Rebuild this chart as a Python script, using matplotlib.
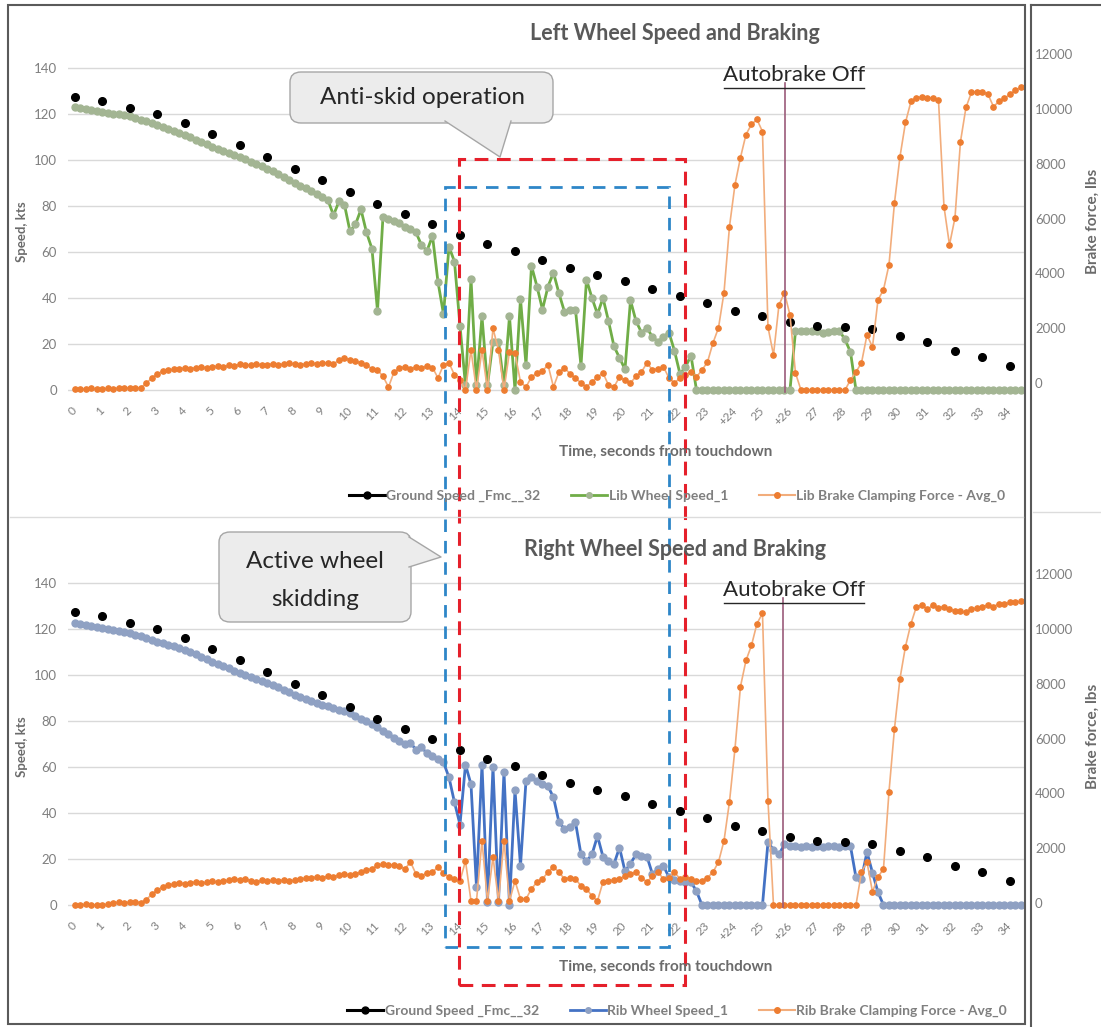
import numpy as np
import matplotlib.pyplot as plt
from matplotlib.lines import Line2D
from matplotlib.patches import Rectangle, FancyBboxPatch, Polygon
from matplotlib.transforms import ScaledTranslation

plt.rcParams['font.family'] = ['Lato', 'DejaVu Sans']

W, H = 1101, 1027


def fx(x):
    return x / W


def fy(y):
    return 1 - y / H


SAMPLE_DT = 0.2  # wheel speed / brake force sample period, s

tick_labels = ['0', '1', '2', '3', '4', '5', '6', '7', '8', '9', '10', '11',
               '12', '13', '14', '15', '16', '17', '18', '19', '20', '21',
               '22', '23', '+24', '25', '+26', '27', '28', '29', '30', '31',
               '32', '33', '34']

# ground speed, one point per second (kts)
ground_speed = [127.5, 125.5, 122.5, 120.0, 116.0, 111.5, 106.5, 101.5, 96.0,
                91.5, 86.0, 81.0, 76.5, 72.0, 67.5, 63.5, 60.5, 56.5, 53.0,
                50.0, 47.5, 44.0, 41.0, 38.0, 34.5, 32.0, 29.5, 28.0, 27.5,
                26.5, 23.5, 21.0, 17.0, 14.5, 10.5]

# left (Lib) wheel speed, kts, every 0.2 s
lib_wheel = [
    123.0, 122.6, 122.2, 121.8, 121.4,
    121.0, 120.6, 120.2, 119.8, 119.4,
    119.0, 118.4, 117.6, 116.8, 116.0,
    115.3, 114.5, 113.6, 112.7, 111.8,
    110.8, 109.8, 108.8, 107.8, 106.8,
    105.8, 104.9, 104.0, 103.0, 102.2,
    101.4, 100.4, 99.3, 98.3, 97.3,
    96.3, 95.0, 93.7, 92.4, 91.1,
    89.8, 88.8, 87.7, 86.6, 85.3,
    84.0, 82.5, 76.0, 82.0, 80.5,
    69.0, 72.0, 78.5, 68.5, 61.4,
    34.4, 75.4, 74.5, 73.5, 72.5,
    71.0, 70.0, 68.5, 63.0, 60.5,
    67.0, 47.0, 33.0, 62.3, 55.8,
    28.0, 2.0, 48.4, 2.0, 32.0,
    2.0, 21.0, 21.0, 2.0, 32.0,
    0.0, 39.6, 11.0, 54.0, 45.0,
    35.0, 45.0, 51.0, 42.0, 34.0,
    35.0, 35.0, 10.5, 48.0, 40.0,
    33.0, 40.0, 30.0, 19.0, 14.0,
    9.0, 39.0, 30.0, 25.0, 27.0,
    23.0, 21.0, 23.0, 25.0, 17.0,
    7.0, 10.0, 15.0, 0.0, 0.0,
    0.0, 0.0, 0.0, 0.0, 0.0,
    0.0, 0.0, 0.0, 0.0, 0.0,
    0.0, 0.0, 0.0, 0.0, 0.0,
    0.0, 25.5, 25.7, 25.7, 25.7,
    25.5, 25.0, 25.4, 25.7, 25.7,
    22.0, 16.5, 0.0, 0.0, 0.0,
    0.0, 0.0, 0.0, 0.0, 0.0,
    0.0, 0.0, 0.0, 0.0, 0.0,
    0.0, 0.0, 0.0, 0.0, 0.0,
    0.0, 0.0, 0.0, 0.0, 0.0,
    0.0, 0.0, 0.0, 0.0, 0.0,
    0.0, 0.0, 0.0,
]

# left (Lib) brake clamping force, lbs, every 0.2 s
lib_brake = [
    50, 30, 40, 60, 30,
    40, 60, 50, 70, 60,
    80, 60, 90, 250, 450,
    600, 680, 720, 760, 780,
    800, 780, 820, 840, 810,
    850, 870, 840, 900, 880,
    940, 900, 920, 960, 900,
    930, 960, 920, 950, 980,
    940, 920, 960, 990, 950,
    980, 1000, 960, 1080, 1170,
    1100, 1050, 980, 900, 780,
    730, 500, 110, 650, 800,
    850, 780, 840, 800, 880,
    820, 440, 915, 990, 550,
    365, 0, 1460, 0, 1460,
    0, 2250, 1460, 0, 1400,
    1350, 290, 110, 475, 620,
    700, 915, 110, 660, 800,
    600, 440, 255, 110, 300,
    475, 620, 180, 110, 475,
    350, 255, 500, 660, 990,
    730, 780, 840, 440, 255,
    440, 550, 660, 475, 730,
    1020, 1720, 2270, 3550, 5970,
    7500, 8490, 9330, 9700, 9880,
    9440, 2300, 1280, 3110, 3550,
    2740, 620, 0, 0, 0,
    0, 0, 0, 0, 0,
    0, 365, 660, 990, 2010,
    1570, 3290, 3660, 4570, 6840,
    8520, 9770, 10540, 10680, 10700,
    10680, 10650, 10600, 6700, 5300,
    6290, 9070, 10320, 10870, 10900,
    10900, 10800, 10350, 10540, 10650,
    10800, 10950, 11050,
]

# right (Rib) wheel speed, kts, every 0.2 s
rib_wheel = [
    122.7, 122.3, 121.9, 121.5, 121.0,
    120.5, 120.1, 119.7, 119.2, 118.8,
    118.3, 117.6, 116.8, 116.0, 115.2,
    114.4, 113.8, 113.1, 112.4, 111.7,
    111.0, 110.0, 109.0, 107.9, 106.8,
    105.8, 104.8, 103.8, 102.9, 101.9,
    101.0, 100.1, 99.3, 98.4, 97.6,
    96.7, 95.7, 94.6, 93.6, 92.5,
    91.5, 90.6, 89.7, 88.9, 88.0,
    87.1, 86.4, 85.7, 85.0, 84.3,
    83.6, 82.3, 81.0, 79.8, 78.5,
    77.2, 75.7, 74.3, 72.8, 71.3,
    69.8, 70.5, 67.5, 68.5, 66.0,
    64.6, 63.5, 62.0, 55.5, 44.6,
    35.0, 61.0, 52.5, 7.8, 61.0,
    1.3, 60.0, 1.3, 58.0, 0.0,
    50.0, 17.0, 54.0, 55.5, 54.0,
    52.5, 51.6, 46.8, 36.0, 33.0,
    34.0, 36.0, 22.0, 19.0, 22.0,
    30.0, 21.0, 19.0, 17.8, 25.0,
    14.7, 18.0, 22.0, 21.5, 21.0,
    13.4, 15.6, 17.0, 12.0, 11.0,
    10.4, 10.2, 10.0, 6.0, 0.0,
    0.0, 0.0, 0.0, 0.0, 0.0,
    0.0, 0.0, 0.0, 0.0, 0.0,
    0.0, 27.3, 24.0, 22.0, 26.4,
    25.6, 25.6, 25.4, 25.6, 25.4,
    25.6, 25.4, 25.6, 25.6, 25.4,
    25.6, 25.6, 12.0, 11.5, 23.0,
    14.0, 5.6, 0.0, 0.0, 0.0,
    0.0, 0.0, 0.0, 0.0, 0.0,
    0.0, 0.0, 0.0, 0.0, 0.0,
    0.0, 0.0, 0.0, 0.0, 0.0,
    0.0, 0.0, 0.0, 0.0, 0.0,
    0.0, 0.0, 0.0,
]

# right (Rib) brake clamping force, lbs, every 0.2 s
rib_brake = [
    0, 0, 20, 0, 10,
    0, 30, 80, 100, 90,
    100, 110, 90, 200, 400,
    550, 660, 730, 770, 800,
    780, 820, 840, 800, 830,
    860, 840, 880, 900, 950,
    920, 960, 880, 840, 900,
    860, 900, 880, 920, 880,
    900, 950, 980, 1000, 1020,
    990, 1060, 1040, 1100, 1130,
    1090, 1130, 1200, 1280, 1320,
    1450, 1500, 1470, 1460, 1420,
    1320, 1570, 1130, 1060, 1170,
    1200, 1390, 1170, 1020, 950,
    880, 1610, 150, 150, 2340,
    150, 1760, 150, 2340, 150,
    880, 220, 220, 590, 840,
    950, 1200, 1390, 1200, 950,
    1000, 950, 700, 590, 330,
    150, 840, 880, 920, 950,
    1060, 1130, 1200, 1000, 840,
    1060, 1200, 950, 1000, 1200,
    950, 1020, 950, 880, 880,
    1000, 1200, 1570, 2340, 3770,
    5710, 7980, 8930, 9480, 10280,
    10650, 3800, 0, 0, 0,
    0, 0, 0, 0, 0,
    0, 0, 0, 0, 0,
    0, 0, 0, 1200, 1570,
    480, 1020, 1320, 4130, 6440,
    8270, 9440, 10280, 10900, 10950,
    10800, 10950, 10850, 10900, 10800,
    10750, 10720, 10700, 10800, 10850,
    10900, 10950, 10900, 11000, 11000,
    11050, 11050, 11090,
]

t_sec = np.arange(len(ground_speed))
t_fast = np.arange(len(lib_wheel)) * SAMPLE_DT

ORANGE_LINE = '#f2ad7c'
ORANGE_MARK = '#ed7d31'
GRAY_TXT = '#7f7f7f'
LABEL_TXT = '#6b6b6b'

fig = plt.figure(figsize=(W / 100, H / 100), dpi=100)


def panel(dy, title, wheel, brake, wline, wmark, names, rshift):
    ax = fig.add_axes([fx(68), fy(395 + dy), (1024 - 68) / W, 345 / H])
    ax2 = ax.twinx()
    ax.set_xlim(-0.2545, 34.51)
    ax.set_ylim(-5 / 2.3, 340 / 2.3)
    ax2.set_ylim(-5 / 0.02738, 340 / 0.02738)

    ax.plot(t_fast, wheel, color=wline, lw=2, marker='o', ms=5,
            mfc=wmark, mec=wmark, zorder=2)
    ax.plot(t_sec, ground_speed, 'o', color='black', ms=5.5, zorder=3)
    ax2.plot(t_fast, brake, color=ORANGE_LINE, lw=1.2, marker='o', ms=3.8,
             mfc=ORANGE_MARK, mec=ORANGE_MARK)

    for a in (ax, ax2):
        for s in a.spines.values():
            s.set_visible(False)
    ax.set_yticks(range(0, 141, 20))
    ax.grid(axis='y', color='#d9d9d9', lw=1)
    ax.set_axisbelow(True)
    ax.tick_params(axis='y', length=0, pad=8, labelsize=9.5, labelcolor=GRAY_TXT)
    ax.set_xticks(t_sec)
    ax.set_xticklabels(tick_labels, rotation=45, ha='right', va='center',
                       rotation_mode='anchor', fontsize=8.5, color=GRAY_TXT)
    ax.tick_params(axis='x', length=0, pad=10)
    ax2.set_yticks(range(0, 12001, 2000))
    ax2.tick_params(axis='y', length=0, pad=8, labelsize=9.5, labelcolor=GRAY_TXT)
    shift = ScaledTranslation(0, rshift / 100, fig.dpi_scale_trans)
    for lbl in ax2.get_yticklabels():
        lbl.set_transform(lbl.get_transform() + shift)

    fig.text(fx(675), fy(34 + dy), title, ha='center', va='center',
             fontsize=15.5, weight='bold', color='#595959')
    fig.text(fx(22), fy(232 + dy), 'Speed, kts', rotation=90, ha='center',
             va='center', fontsize=9.5, weight='bold', color=LABEL_TXT)
    fig.text(fx(1093), fy(221 + dy), 'Brake force, lbs', rotation=90,
             ha='center', va='center', fontsize=11, weight='bold', color=LABEL_TXT)
    fig.text(fx(666), fy(452 + dy), 'Time, seconds from touchdown',
             ha='center', va='center', fontsize=11, weight='bold', color=LABEL_TXT)

    handles = [
        Line2D([], [], color='black', lw=2.2, marker='o', ms=5),
        Line2D([], [], color=wline, lw=2, marker='o', ms=4, mfc=wmark, mec=wmark),
        Line2D([], [], color=ORANGE_LINE, lw=1.5, marker='o', ms=4,
               mfc=ORANGE_MARK, mec=ORANGE_MARK),
    ]
    fig.legend(handles, names, loc='center', bbox_to_anchor=(fx(677), fy(496 + dy)),
               ncol=3, frameon=False, prop={'size': 10, 'weight': 'bold'},
               labelcolor=GRAY_TXT, handlelength=2.6, handletextpad=0.1,
               columnspacing=2.2)

    # autobrake off marker
    fig.add_artist(Line2D([fx(785 - 2 * dy / 515)] * 2, [fy(83 + dy), fy(392 + dy)],
                          color='#9b5b7a', lw=1.2))
    fig.text(fx(794), fy(75 + dy), 'Autobrake Off', ha='center', va='center',
             fontsize=16, color='#262626')
    fig.add_artist(Line2D([fx(724), fx(864)], [fy(88 + dy)] * 2,
                          color='#262626', lw=1))
    return ax, ax2


panel(0, 'Left Wheel Speed and Braking', lib_wheel, lib_brake,
      '#70ad47', '#a3b593',
      ['Ground Speed _Fmc__32', 'Lib Wheel Speed_1',
       'Lib Brake Clamping Force - Avg_0'], 7)
panel(515, 'Right Wheel Speed and Braking', rib_wheel, rib_brake,
      '#4472c4', '#8fa1c3',
      ['Ground Speed _Fmc__32', 'Rib Wheel Speed_1',
       'Rib Brake Clamping Force - Avg_0'], 2)

# frames of the composite picture
fig.add_artist(Rectangle((fx(8), fy(1024)), (1025 - 8) / W, (1024 - 5) / H,
                         fill=False, edgecolor='#5a5a5a', lw=1.5))
fig.add_artist(Line2D([fx(1031)] * 2, [fy(5), fy(1027)], color='#5a5a5a', lw=1.5))
fig.add_artist(Line2D([fx(1031), fx(1101)], [fy(5)] * 2, color='#5a5a5a', lw=1.5))
fig.add_artist(Line2D([fx(10), fx(1023)], [fy(517)] * 2, color='#dcdcdc', lw=1))
fig.add_artist(Line2D([fx(1033), fx(1101)], [fy(512)] * 2, color='#dcdcdc', lw=1))

# dashed highlight boxes
fig.add_artist(Rectangle((fx(459), fy(985)), (685 - 459) / W, (985 - 159) / H,
                         fill=False, edgecolor='#e5202b', lw=2.2,
                         linestyle=(0, (4.5, 2.8))))
fig.add_artist(Rectangle((fx(445), fy(947)), (669 - 445) / W, (947 - 187) / H,
                         fill=False, edgecolor='#2e86c8', lw=2.0,
                         linestyle=(0, (4.5, 3.2))))

# callouts
FILL, EDGE = '#ececec', '#a6a6a6'


def callout(x0, y0, x1, y1, tail):
    fig.add_artist(FancyBboxPatch((fx(x0), fy(y1)), (x1 - x0) / W, (y1 - y0) / H,
                                  boxstyle='round,pad=0,rounding_size=0.01',
                                  facecolor=FILL, edgecolor=EDGE, lw=1))
    fig.add_artist(Polygon([(fx(x), fy(y)) for x, y in tail], closed=True,
                           facecolor=FILL, edgecolor='none'))
    fig.add_artist(Line2D([fx(x) for x, _ in tail], [fy(y) for _, y in tail],
                          color=EDGE, lw=1))


callout(290, 72, 553, 123, [(445, 121), (500, 157), (511, 121)])
fig.text(fx(422), fy(98), 'Anti-skid operation', ha='center', va='center',
         fontsize=17.5, color='#262626')
callout(219, 532, 411, 622, [(409, 537), (441, 557), (409, 567)])
fig.text(fx(315), fy(562), 'Active wheel', ha='center', va='center',
         fontsize=17.5, color='#262626')
fig.text(fx(315), fy(599), 'skidding', ha='center', va='center',
         fontsize=17.5, color='#262626')

fig.savefig('out.png', dpi=100)
